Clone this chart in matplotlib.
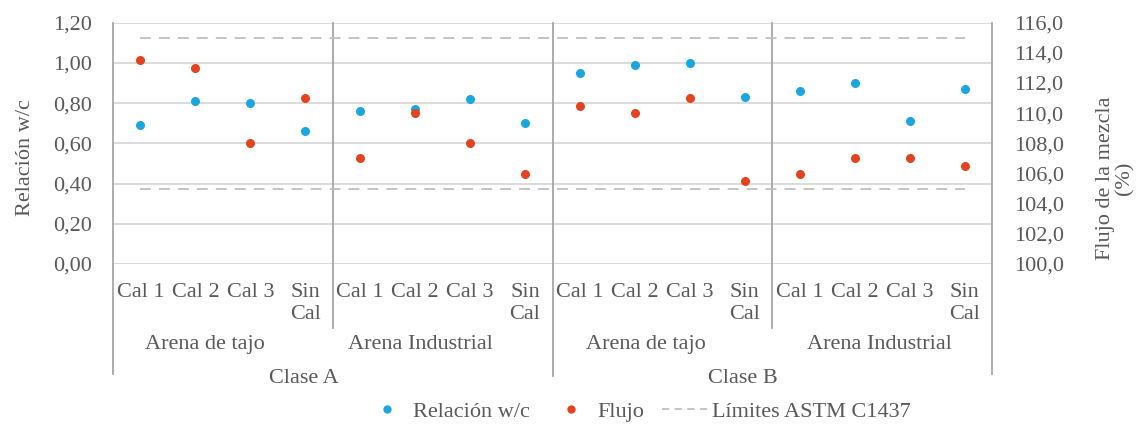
import matplotlib
matplotlib.use("Agg")
import matplotlib.pyplot as plt
from matplotlib.lines import Line2D
from matplotlib.ticker import FuncFormatter, MultipleLocator

plt.rcParams["font.family"] = ["Liberation Serif", "DejaVu Serif"]

TEXT = "#595959"
BLUE = "#1aa7df"
RED = "#e5431f"
GRID = "#d9d9d9"
SEP = "#a6a6a6"

cats = ["Cal 1", "Cal 2", "Cal 3", "Sin\nCal"] * 4
arenas = ["Arena de tajo", "Arena Industrial", "Arena de tajo", "Arena Industrial"]
clases = ["Clase A", "Clase B"]

wc = [0.69, 0.81, 0.80, 0.66,
      0.76, 0.77, 0.82, 0.70,
      0.95, 0.99, 1.00, 0.83,
      0.86, 0.90, 0.71, 0.87]
flujo = [113.5, 113.0, 108.0, 111.0,
         107.0, 110.0, 108.0, 106.0,
         110.5, 110.0, 111.0, 105.5,
         106.0, 107.0, 107.0, 106.5]
limites = [105.0, 115.0]

x = list(range(len(cats)))

fig = plt.figure(figsize=(11.44, 4.26), dpi=100)
ax = fig.add_axes([113 / 1144, 1 - 264 / 426, 879 / 1144, 241.3 / 426])
ax2 = ax.twinx()

ax.set_xlim(-0.5, len(cats) - 0.5)
ax.set_ylim(0, 1.2)
ax2.set_ylim(100, 116)
ax.yaxis.set_major_locator(MultipleLocator(0.2))
ax2.yaxis.set_major_locator(MultipleLocator(2))
ax.yaxis.set_major_formatter(FuncFormatter(lambda v, p: f"{v:.2f}".replace(".", ",")))
ax2.yaxis.set_major_formatter(FuncFormatter(lambda v, p: f"{v:.1f}".replace(".", ",")))

for a in (ax, ax2):
    for s in a.spines.values():
        s.set_visible(False)
ax.yaxis.grid(True, color=GRID, lw=1.3)
ax.set_axisbelow(True)

ax.set_xticks(x)
ax.set_xticklabels(cats, fontsize=16, color=TEXT, linespacing=1.2)
ax.tick_params(axis="x", length=0, pad=14)
ax.tick_params(axis="y", length=0, pad=15, labelsize=16, labelcolor=TEXT)
ax2.tick_params(axis="y", length=0, pad=16, labelsize=16, labelcolor=TEXT)

# limits (right axis)
for lim in limites:
    ax2.plot(x, [lim] * len(x), color="#bfbfbf", lw=1.3, dashes=(6, 4.5))

ax.scatter(x, wc, s=30, color=BLUE, zorder=3, clip_on=False)
ax2.scatter(x, flujo, s=30, color=RED, zorder=3, clip_on=False)

# separators for the category hierarchy
tr = ax.get_xaxis_transform()
bounds = [-0.5, 3.5, 7.5, 11.5, 15.5]
depth = [-0.455, -0.265, -0.465, -0.265, -0.455]
for b, d in zip(bounds, depth):
    ax.plot([b, b], [1, d], transform=tr, color=SEP, lw=1.3, clip_on=False)

arena_x = [1.17, 5.1, 9.2, 13.45]
for xi, lab in zip(arena_x, arenas):
    ax.text(xi, -0.335, lab, transform=tr, ha="center", va="center",
            fontsize=16, color=TEXT)
clase_x = [2.98, 10.97]
for xi, lab in zip(clase_x, clases):
    ax.text(xi, -0.475, lab, transform=tr, ha="center", va="center",
            fontsize=16, color=TEXT)

ax.set_ylabel("Relación w/c", fontsize=16, color=TEXT, va="center")
ax.yaxis.set_label_coords(-0.100, 0.44)
ax2.set_ylabel("Flujo de la mezcla\n(%)", fontsize=16, color=TEXT, va="center",
               linespacing=1.0, rotation=90)
ax2.yaxis.set_label_coords(1.14, 0.356)

handles = [
    Line2D([], [], ls="none", marker="o", ms=5, color=BLUE),
    Line2D([], [], ls="none", marker="o", ms=5, color=RED),
    Line2D([], [], color="#bfbfbf", lw=1.3, dashes=(4, 3)),
]
labels = ["Relación w/c", "Flujo", "Límites ASTM C1437"]
leg = fig.legend(handles, labels, loc="center", bbox_to_anchor=(0.557, 0.033),
                 ncol=3, frameon=False, fontsize=16, handlelength=2.1,
                 handletextpad=0.15, columnspacing=0.8)
for t in leg.get_texts():
    t.set_color(TEXT)

fig.savefig("out.png", dpi=100)
